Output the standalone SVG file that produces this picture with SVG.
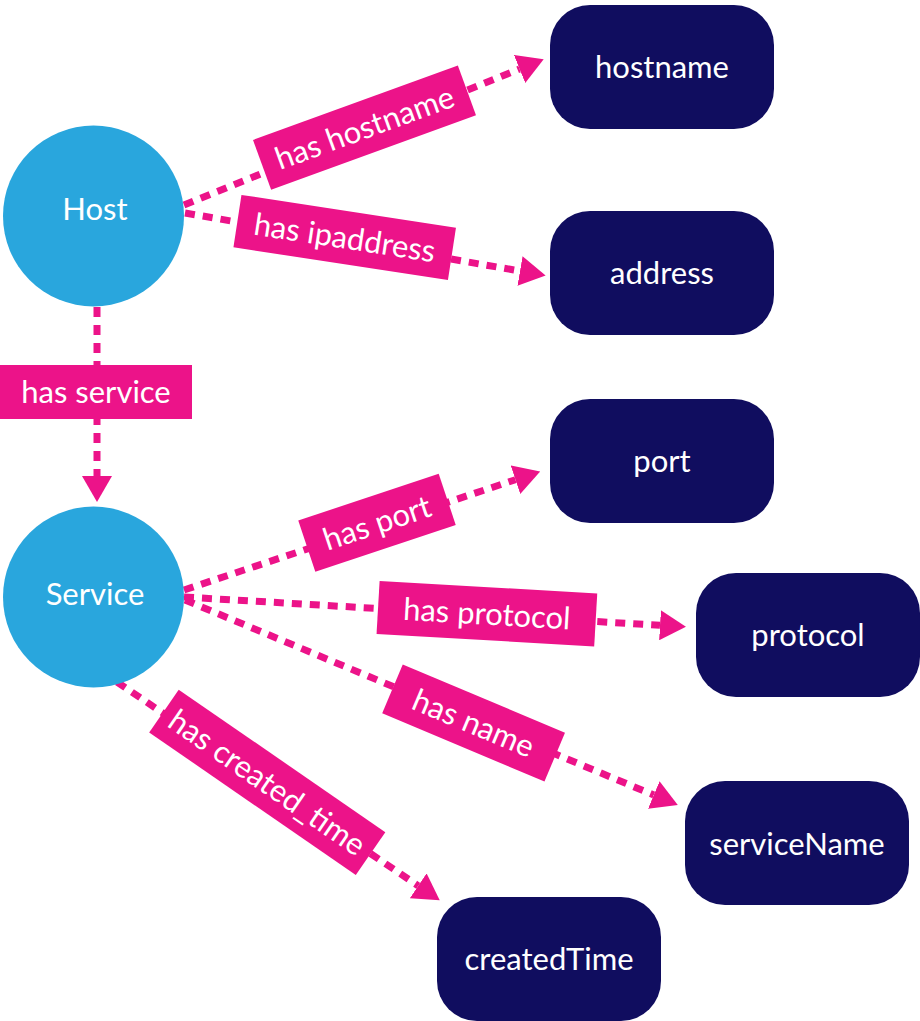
<svg xmlns="http://www.w3.org/2000/svg" width="920" height="1021" viewBox="0 0 920 1021">
<defs>
<style>
.circle{fill:#29A6DD}
.box{fill:#100D5F}
.ntext{font-family:Lato,"Open Sans",sans-serif;font-size:31px;fill:#ffffff;text-anchor:middle}
.edge{fill:none;stroke:#EC1389;stroke-width:7;stroke-dasharray:10 8}
.lbox{fill:#EC1389}
.ltext{font-family:Lato,"Open Sans",sans-serif;font-size:31px;fill:#ffffff;text-anchor:middle}
</style>
<marker id="arr" markerUnits="userSpaceOnUse" markerWidth="26" markerHeight="30" refX="0" refY="15" orient="auto" viewBox="0 0 26 30">
<path d="M0,0 L26,15 L0,30 Z" fill="#EC1389"/>
</marker>
</defs>
<rect width="920" height="1021" fill="#ffffff"/>
<g id="connectors">
<line class="edge" x1="184" y1="205" x2="519.6" y2="69" marker-end="url(#arr)"/>
<line class="edge" x1="185" y1="213" x2="520" y2="271" marker-end="url(#arr)"/>
<line class="edge" x1="97" y1="307" x2="97" y2="476" marker-end="url(#arr)"/>
<line class="edge" x1="184" y1="590" x2="515.5" y2="479.7" marker-end="url(#arr)"/>
<line class="edge" x1="184" y1="597" x2="660" y2="625.3" marker-end="url(#arr)"/>
<line class="edge" x1="185" y1="600" x2="653.8" y2="795" marker-end="url(#arr)"/>
<line class="edge" x1="117" y1="682" x2="418.2" y2="885.8" marker-end="url(#arr)"/>
<g id="label-has-hostname" transform="translate(364.5,127.6) rotate(-20)">
<rect class="lbox" x="-109" y="-26.5" width="218" height="53"/>
<text class="ltext" x="0" y="11">has hostname</text>
</g>
<g id="label-has-ipaddress" transform="translate(344.7,237.5) rotate(8.7)">
<rect class="lbox" x="-108.5" y="-26.5" width="217" height="53"/>
<text class="ltext" x="0" y="11">has ipaddress</text>
</g>
<g id="label-has-service" transform="translate(96,392)">
<rect class="lbox" x="-96" y="-27" width="192" height="54"/>
<text class="ltext" x="0" y="11">has service</text>
</g>
<g id="label-has-port" transform="translate(377,522.75) rotate(-18.4)">
<rect class="lbox" x="-74" y="-27" width="148" height="54"/>
<text class="ltext" x="0" y="11">has port</text>
</g>
<g id="label-has-protocol" transform="translate(486.9,613.7) rotate(3.3)">
<rect class="lbox" x="-109" y="-26.5" width="218" height="53"/>
<text class="ltext" x="0" y="11">has protocol</text>
</g>
<g id="label-has-name" transform="translate(473.6,723) rotate(22.8)">
<rect class="lbox" x="-88" y="-26.5" width="176" height="53"/>
<text class="ltext" x="0" y="11">has name</text>
</g>
<g id="label-has-created-time" transform="translate(267.25,782.3) rotate(34.6)">
<rect class="lbox" x="-125.5" y="-26" width="251" height="52"/>
<text class="ltext" x="0" y="11">has created_time</text>
</g>
</g>
<g id="node-host">
<circle class="circle" cx="93.5" cy="216" r="90.5"/>
<text class="ntext" x="95" y="220">Host</text>
</g>
<g id="node-service">
<circle class="circle" cx="93.5" cy="597" r="90.5"/>
<text class="ntext" x="95" y="605">Service</text>
</g>
<g id="node-hostname">
<rect class="box" x="550" y="5" width="224" height="124" rx="40"/>
<text class="ntext" x="662" y="78">hostname</text>
</g>
<g id="node-address">
<rect class="box" x="550" y="211" width="224" height="124" rx="40"/>
<text class="ntext" x="662" y="284">address</text>
</g>
<g id="node-port">
<rect class="box" x="550" y="399" width="224" height="124" rx="40"/>
<text class="ntext" x="662" y="472">port</text>
</g>
<g id="node-protocol">
<rect class="box" x="696" y="573" width="224" height="124" rx="40"/>
<text class="ntext" x="808" y="646">protocol</text>
</g>
<g id="node-serviceName">
<rect class="box" x="685" y="781" width="224" height="124" rx="40"/>
<text class="ntext" x="797" y="855">serviceName</text>
</g>
<g id="node-createdTime">
<rect class="box" x="437" y="897" width="224" height="124" rx="40"/>
<text class="ntext" x="549" y="970">createdTime</text>
</g>
</svg>
